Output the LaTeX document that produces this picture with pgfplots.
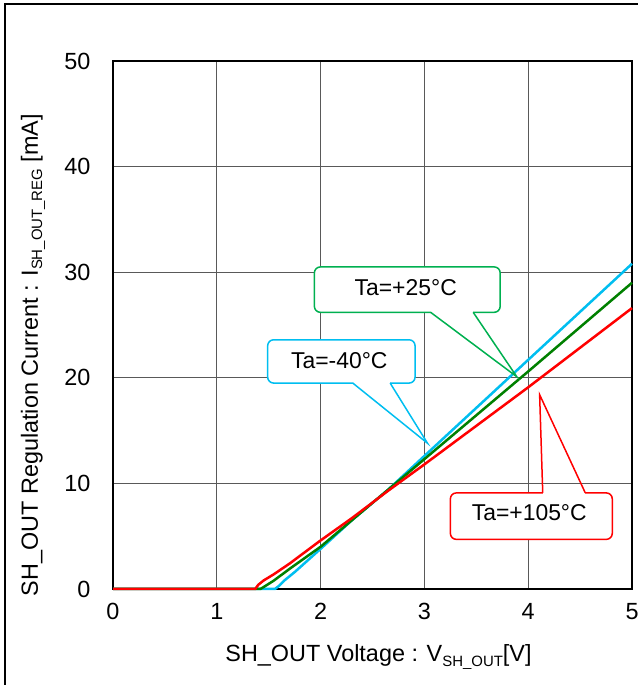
\documentclass[border=0pt]{standalone}
\usepackage{pgfplots}
\pgfplotsset{compat=1.18}
\usepackage{fontspec}
\setmainfont{Liberation Sans}
\definecolor{cblue}{RGB}{0,190,240}
\definecolor{cgreen}{RGB}{0,128,0}
\definecolor{cgreenbox}{RGB}{0,176,80}
\definecolor{cred}{RGB}{255,0,0}
\begin{document}
\begin{tikzpicture}[x=1bp,y=1bp]
\useasboundingbox (0,0) rectangle (638,685);
\draw[line width=2bp] (5,0) -- (5,681) -- (640,681);
\begin{axis}[
  at={(113bp,96bp)}, anchor=south west,
  scale only axis, width=519bp, height=528bp,
  xmin=0, xmax=5, ymin=0, ymax=50,
  xtick={0,1,2,3,4,5}, ytick={0,10,20,30,40,50},
  major tick length=0pt,
  grid=major,
  major grid style={black!65, line width=1bp},
  axis line style={line width=2bp},
  clip=false,
  tick label style={font=\fontsize{23.5}{28}\selectfont},
  /pgf/number format/assume math mode=true,
  yticklabel style={xshift=-19bp},
  xticklabel style={yshift=-11bp},
  xlabel={SH\_OUT Voltage : V\raisebox{-0.35ex}{\fontsize{15}{16}\selectfont SH\_OUT}[V]},
  xlabel style={at={(axis description cs:0.5116,-0.138)}, anchor=base, font=\fontsize{23.5}{28}\selectfont},
  ylabel={SH\_OUT Regulation Current : I\raisebox{-0.35ex}{\fontsize{15}{16}\selectfont SH\_OUT\_REG} [mA]},
  ylabel style={at={(axis description cs:-0.154,0.443)}, anchor=center, rotate=0, font=\fontsize{23.5}{28}\selectfont},
]
\addplot[cblue, line width=2.5bp] coordinates {
 (0,0) (1.56,0) (1.60,0.3) (1.65,0.8) (1.75,1.6) (2,3.8) (2.3,6.5) (2.65,9.4) (3,12.6) (4,21.7) (5,30.8)};
\addplot[cgreen, line width=2.5bp] coordinates {
 (0,0) (1.42,0) (1.47,0.3) (1.55,0.8) (1.7,1.9) (2,4.0) (2.3,6.5) (2.65,9.4) (3,12.3) (4,20.6) (5,29.0)};
\addplot[cred, line width=2.5bp] coordinates {
 (0,0) (1.37,0) (1.40,0.4) (1.45,0.8) (1.55,1.4) (1.7,2.4) (2,4.6) (2.3,6.7) (2.65,9.3) (3,11.8) (4,19.1) (5,26.6)};
% callout -40
\draw[cblue, line width=1.5bp, fill=white, rounded corners=6bp] (axis cs:1.49,19.5) rectangle (axis cs:2.91,23.6);
\draw[white, line width=2.5bp] (axis cs:2.31,19.5) -- (axis cs:2.67,19.5);
\draw[cblue, line width=1.5bp] (axis cs:2.31,19.5) -- (axis cs:3.03,13.8) -- (axis cs:2.67,19.5);
\node[font=\fontsize{23}{27}\selectfont] at (axis cs:2.18,21.6) {Ta=-40°C};
% callout +25
\draw[cgreenbox, line width=1.5bp, fill=white, rounded corners=6bp] (axis cs:1.94,26.2) rectangle (axis cs:3.73,30.5);
\draw[white, line width=2.5bp] (axis cs:3.06,26.2) -- (axis cs:3.47,26.2);
\draw[cgreenbox, line width=1.5bp] (axis cs:3.06,26.2) -- (axis cs:3.89,20.1) -- (axis cs:3.47,26.2);
\node[font=\fontsize{23}{27}\selectfont] at (axis cs:2.82,28.5) {Ta=+25°C};
% callout +105
\draw[cred, line width=1.5bp, fill=white, rounded corners=6bp] (axis cs:3.25,4.7) rectangle (axis cs:4.81,9.1);
\draw[white, line width=2.5bp] (axis cs:4.14,9.1) -- (axis cs:4.55,9.1);
\draw[cred, line width=1.5bp] (axis cs:4.14,9.1) -- (axis cs:4.11,18.4) -- (axis cs:4.55,9.1);
\node[font=\fontsize{23}{27}\selectfont] at (axis cs:4.01,7.2) {Ta=+105°C};
\end{axis}
\end{tikzpicture}
\end{document}
